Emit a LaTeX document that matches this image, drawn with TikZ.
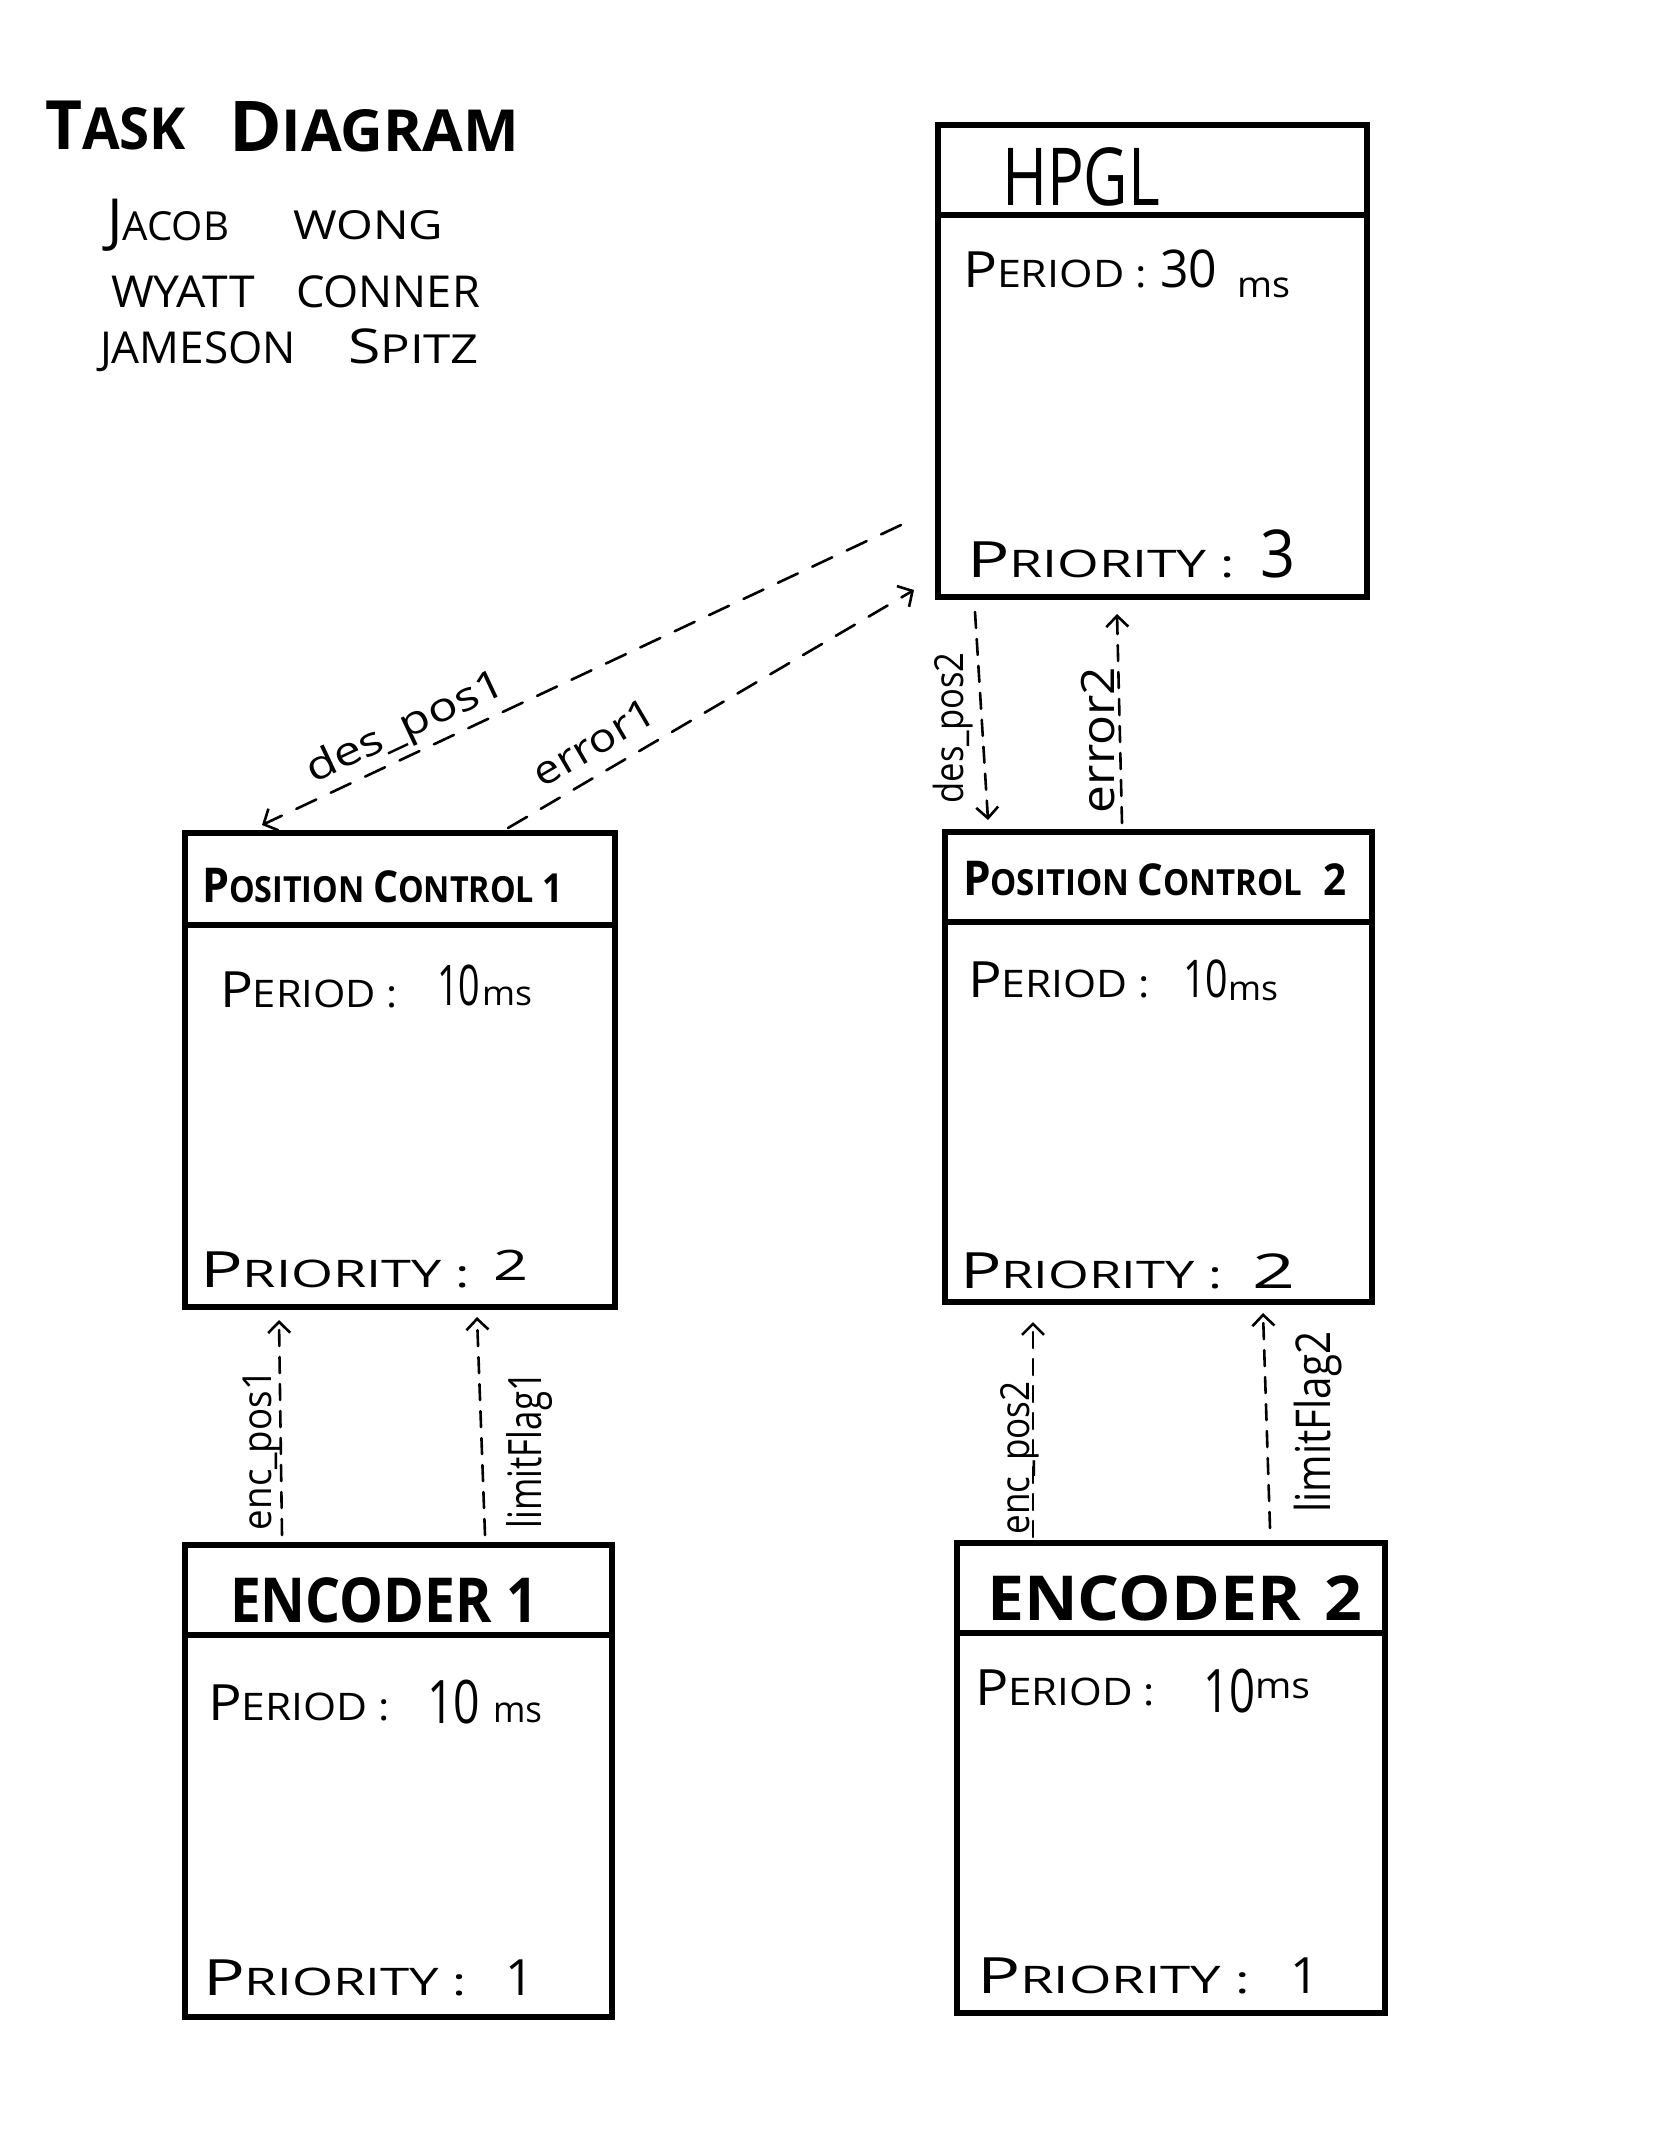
\documentclass[tikz,border=0pt]{standalone}
\usepackage{fontspec}
\setmainfont{Open Sans}
\usepackage{graphicx}
\usetikzlibrary{arrows.meta,calc}
\newcommand\fw[2]{\resizebox{#1pt}{\height}{#2}}
\newcommand\hwbig{\fontsize{50}{50}\selectfont}
\newcommand\hwsmall{\fontsize{38}{38}\selectfont}
\newcommand\perd{{\hwbig P\hwsmall ERIOD :}}
\newcommand\prio{{\hwbig P\hwsmall RIORITY :}}
\begin{document}
\begin{tikzpicture}[x=1pt,y=-1pt,
  box/.style={draw, line width=6pt, rectangle, inner sep=0pt, outer sep=0pt},
  hline/.style={line width=6pt},
  txt/.style={anchor=base west, inner sep=0pt, outer sep=0pt},
  flow/.style={line width=2.6pt, dash pattern=on 22pt off 16pt, line cap=round,
    -{Straight Barb[length=11pt,width=24pt]}},
  vflow/.style={line width=2.6pt, dash pattern=on 16pt off 11pt, line cap=round,
    -{Straight Barb[length=11pt,width=22pt]}},
  lbl/.style={inner sep=0pt, outer sep=0pt, sloped, font=\fontsize{40}{40}\selectfont},
  vlbl/.style={inner sep=0pt, outer sep=0pt, rotate=90, font=\fontsize{40}{40}\selectfont}]
\useasboundingbox[fill=white] (0,0) rectangle (1668,2154);

% ---------- title and names ----------
\node[txt, font=\bfseries] (t1) at (45,150) {\fw{141}{\fontsize{68}{68}\selectfont T\fontsize{58}{58}\selectfont ASK}};
\node[txt, font=\bfseries] (t2) at (229,152) {\fw{290}{\fontsize{70}{70}\selectfont D\fontsize{58}{58}\selectfont IAGRAM}};
\node[txt, font=\fontsize{40}{40}\selectfont] (n1) at (107,240) {\fw{122}{{\fontsize{58}{58}\selectfont J}ACOB}};
\node[txt, font=\fontsize{40}{40}\selectfont] (n2) at (293,240) {\fw{150}{WONG}};
\node[txt, font=\fontsize{44}{44}\selectfont] (n3) at (111,307) {\fw{144}{WYATT}};
\node[txt, font=\fontsize{44}{44}\selectfont] (n4) at (296,307) {\fw{184}{CONNER}};
\node[txt, font=\fontsize{44}{44}\selectfont] (n5) at (100,363) {\fw{196}{JAMESON}};
\node[txt, font=\fontsize{40}{40}\selectfont] (n6) at (348,363) {\fw{131}{{\fontsize{48}{48}\selectfont S}PITZ}};

% ---------- boxes ----------
\node[box, minimum width=429pt, minimum height=472pt] (hpgl) at (1152.5,361) {};
\node[box, minimum width=430pt, minimum height=474pt] (pc1) at (400,1070) {};
\node[box, minimum width=427pt, minimum height=470pt] (pc2) at (1158.5,1067) {};
\node[box, minimum width=427pt, minimum height=472pt] (enc1) at (398.5,1781) {};
\node[box, minimum width=428pt, minimum height=470pt] (enc2) at (1171,1778) {};

\draw[hline] ($(hpgl.north west)+(0,90)$) -- ($(hpgl.north east)+(0,90)$);
\draw[hline] ($(pc1.north west)+(0,92)$) -- ($(pc1.north east)+(0,92)$);
\draw[hline] ($(pc2.north west)+(0,90)$) -- ($(pc2.north east)+(0,90)$);
\draw[hline] ($(enc1.north west)+(0,90)$) -- ($(enc1.north east)+(0,90)$);
\draw[hline] ($(enc2.north west)+(0,90)$) -- ($(enc2.north east)+(0,90)$);

% ---------- HPGL ----------
\node[txt, font=\fontsize{80}{80}\selectfont] (hpT) at (1002,205) {\fw{158}{HPGL}};
\node[txt] (hpP) at (963,287) {\fw{184}{\perd}};
\node[txt, font=\fontsize{52}{52}\selectfont] (hpPv) at (1160,287) {\fw{57}{30}};
\node[txt, font=\fontsize{36}{36}\selectfont] (hpPu) at (1237,297) {\fw{53}{ms}};
\node[txt] (hpR) at (967,577) {\fw{268}{\prio}};
\node[txt, font=\fontsize{66}{66}\selectfont] (hpRv) at (1260,577) {\fw{35}{3}};

% ---------- Position control 1 ----------
\node[txt, font=\bfseries] (p1T) at (202,902) {\fw{361}{\fontsize{48}{48}\selectfont P\fontsize{36}{36}\selectfont OSITION \fontsize{44}{44}\selectfont C\fontsize{36}{36}\selectfont ONTROL \fontsize{40}{40}\selectfont 1}};
\node[txt] (p1P) at (220,1007) {\fw{178}{\perd}};
\node[txt, font=\fontsize{56}{56}\selectfont] (p1Pv) at (437,1005) {\fw{43}{10}};
\node[txt, font=\fontsize{34}{34}\selectfont] (p1Pu) at (482,1005) {\fw{50}{ms}};
\node[txt] (p1R) at (200,1287) {\fw{270}{\prio}};
\node[txt, font=\fontsize{42}{42}\selectfont] (p1Rv) at (493,1280) {\fw{35}{2}};

% ---------- Position control 2 ----------
\node[txt, font=\bfseries] (p2T) at (963,895) {\fw{384}{\fontsize{48}{48}\selectfont P\fontsize{36}{36}\selectfont OSITION \fontsize{44}{44}\selectfont C\fontsize{36}{36}\selectfont ONTROL\hspace{14pt} \fontsize{44}{44}\selectfont 2}};
\node[txt] (p2P) at (968,997) {\fw{182}{\perd}};
\node[txt, font=\fontsize{52}{52}\selectfont] (p2Pv) at (1183,997) {\fw{45}{10}};
\node[txt, font=\fontsize{34}{34}\selectfont] (p2Pu) at (1228,1000) {\fw{50}{ms}};
\node[txt] (p2R) at (960,1288) {\fw{262}{\prio}};
\node[txt, font=\fontsize{48}{48}\selectfont] (p2Rv) at (1252,1288) {\fw{43}{2}};

% ---------- Encoder 1 ----------
\node[txt, font=\bfseries\fontsize{62}{62}\selectfont] (e1T) at (230,1622) {\fw{308}{ENCODER 1}};
\node[txt] (e1P) at (208,1720) {\fw{182}{\perd}};
\node[txt, font=\fontsize{60}{60}\selectfont] (e1Pv) at (427,1723) {\fw{53}{10}};
\node[txt, font=\fontsize{36}{36}\selectfont] (e1Pu) at (493,1722) {\fw{49}{ms}};
\node[txt] (e1R) at (203,1995) {\fw{264}{\prio}};
\node[txt, font=\fontsize{50}{50}\selectfont] (e1Rv) at (505,1995) {1};

% ---------- Encoder 2 ----------
\node[txt, font=\bfseries\fontsize{62}{62}\selectfont] (e2T) at (987,1620) {\fw{375}{ENCODER\hspace{6pt} 2}};
\node[txt] (e2P) at (975,1705) {\fw{180}{\perd}};
\node[txt, font=\fontsize{60}{60}\selectfont] (e2Pv) at (1203,1712) {\fw{52}{10}};
\node[txt, font=\fontsize{36}{36}\selectfont] (e2Pu) at (1255,1698) {\fw{55}{ms}};
\node[txt] (e2R) at (977,1993) {\fw{273}{\prio}};
\node[txt, font=\fontsize{50}{50}\selectfont] (e2Rv) at (1290,1993) {1};

% ---------- connectors ----------
\draw[flow] ($(hpgl.south west)+(-37,-72)$) --
  node[lbl, above=6pt, pos=0.757] {\fw{215}{des\_pos1}}
  ($(pc1.north west)+(77,-8)$);
\draw[flow] ($(pc1.north west)+(323,-5)$) --
  node[lbl, above=16pt, pos=0.25] {\fw{135}{error1}}
  ($(hpgl.south west)+(-24,-7)$);
\draw[vflow] ($(hpgl.south west)+(37,15)$) -- ($(pc2.north west)+(43,-12)$);
\draw[vflow] ($(pc2.north west)+(177,-9)$) -- ($(hpgl.south west)+(179,17)$);
\draw[vflow] ($(enc1.north west)+(97,-10)$) -- ($(pc1.south west)+(94,13)$);
\draw[vflow] ($(enc1.north west)+(300,-10)$) -- ($(pc1.south west)+(292,10)$);
\draw[vflow] ($(enc2.north west)+(76,-6)$) -- ($(pc2.south west)+(88,20)$);
\draw[vflow] ($(enc2.north west)+(313,-15)$) -- ($(pc2.south west)+(318,11)$);

% ---------- vertical labels ----------
\node[vlbl] (l1) at (953,728) {\fw{151}{des\_pos2}};
\node[vlbl, font=\fontsize{46}{46}\selectfont] (l2) at (1098,740) {\fw{146}{error2}};
\node[vlbl] (l3) at (262,1450) {\fw{160}{enc\_pos1}};
\node[vlbl, font=\fontsize{46}{46}\selectfont] (l4) at (530,1450) {\fw{156}{limitFlag1}};
\node[vlbl] (l5) at (1020,1458) {\fw{153}{enc\_pos2}};
\node[vlbl, font=\fontsize{48}{48}\selectfont] (l6) at (1318,1422) {\fw{181}{limitFlag2}};
\end{tikzpicture}
\end{document}
